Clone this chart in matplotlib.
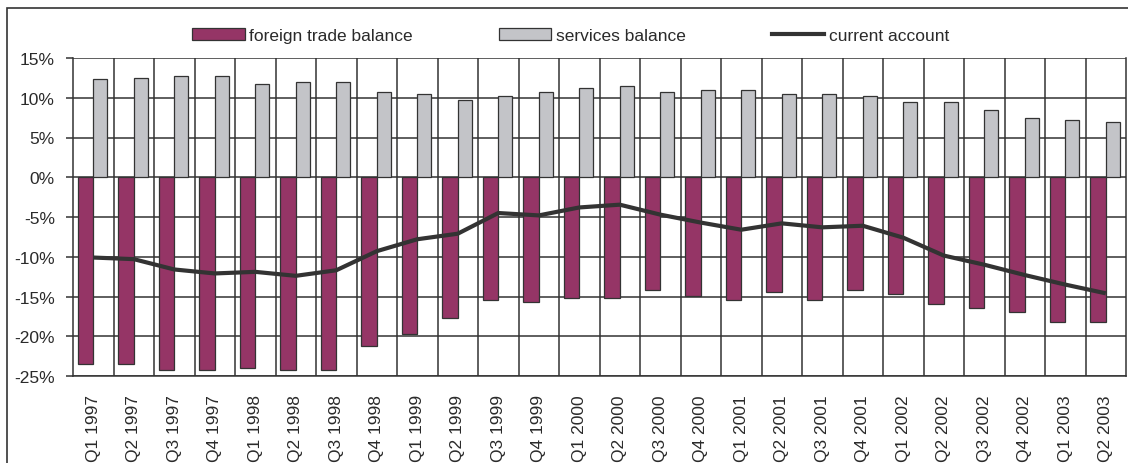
import numpy as np
import matplotlib.pyplot as plt
from matplotlib.patches import Patch, Rectangle
from matplotlib.lines import Line2D

plt.rcParams['font.family'] = ['Liberation Sans', 'DejaVu Sans']

quarters = ["Q1 1997", "Q2 1997", "Q3 1997", "Q4 1997",
            "Q1 1998", "Q2 1998", "Q3 1998", "Q4 1998",
            "Q1 1999", "Q2 1999", "Q3 1999", "Q4 1999",
            "Q1 2000", "Q2 2000", "Q3 2000", "Q4 2000",
            "Q1 2001", "Q2 2001", "Q3 2001", "Q4 2001",
            "Q1 2002", "Q2 2002", "Q3 2002", "Q4 2002",
            "Q1 2003", "Q2 2003"]

# balances as % of GDP
foreign_trade = [-23.5, -23.5, -24.2, -24.2, -24.0, -24.2, -24.2, -21.2,
                 -19.7, -17.7, -15.45, -15.7, -15.15, -15.15, -14.15, -14.9,
                 -15.45, -14.4, -15.4, -14.15, -14.65, -15.9, -16.4, -16.9,
                 -18.2, -18.2]
services = [12.3, 12.5, 12.75, 12.75, 11.75, 12.0, 12.0, 10.75,
            10.5, 9.75, 10.25, 10.75, 11.25, 11.5, 10.75, 11.0,
            11.0, 10.5, 10.5, 10.25, 9.5, 9.5, 8.5, 7.5,
            7.25, 7.0]
current_account = [-10.1, -10.3, -11.6, -12.1, -11.9, -12.4, -11.7, -9.3,
                   -7.8, -7.1, -4.5, -4.8, -3.8, -3.45, -4.7, -5.7,
                   -6.6, -5.8, -6.3, -6.1, -7.6, -9.85, -11.0, -12.3,
                   -13.5, -14.6]

purple = '#953566'
grey = '#c3c4c8'
dark = '#333333'
text_col = '#2a2a2a'

fig = plt.figure(figsize=(11.28, 4.64), dpi=100)
ax = fig.add_axes([73 / 1128, 1 - 377 / 464, 1053 / 1128, 318 / 464])

x = np.arange(len(quarters))
ax.bar(x - 0.38, foreign_trade, width=0.38, align='edge', color=purple,
       edgecolor=dark, linewidth=0.9, zorder=3)
ax.bar(x, services, width=0.35, align='edge', color=grey,
       edgecolor=dark, linewidth=0.9, zorder=3)
ax.plot(x, current_account, color=dark, linewidth=3, zorder=4,
        solid_capstyle='butt')

ax.set_xlim(-0.5, len(quarters) - 0.5)
ax.set_ylim(-25, 15)
ax.set_yticks(np.arange(-25, 16, 5))
ax.set_yticklabels([f"{v}%" for v in range(-25, 16, 5)])
ax.set_xticks(x)
ax.set_xticklabels(quarters, rotation=90)
ax.set_xticks(x[:-1] + 0.5, minor=True)

ax.grid(True, axis='y', which='major', color=dark, linewidth=1.1, zorder=0)
ax.grid(True, axis='x', which='minor', color=dark, linewidth=1.1, zorder=0)
ax.grid(False, axis='x', which='major')
ax.set_axisbelow(True)

ax.tick_params(axis='x', which='both', length=0, pad=13, labelsize=12.5,
               colors=text_col)
ax.tick_params(axis='y', length=5, width=1.1, color=dark, pad=8,
               labelsize=12.5, labelcolor=text_col)
for side in ['left', 'right', 'bottom']:
    ax.spines[side].set_color(dark)
    ax.spines[side].set_linewidth(1.1)
ax.spines['top'].set_visible(False)

handles = [Patch(facecolor=purple, edgecolor=dark, linewidth=0.9),
           Patch(facecolor=grey, edgecolor=dark, linewidth=0.9),
           Line2D([], [], color=dark, linewidth=3)]
labels = ["foreign trade balance", "services balance", "current account"]
fig.legend(handles, labels, loc='center', bbox_to_anchor=(0.506, 0.922),
           ncol=3, frameon=False, fontsize=12.5, handlelength=3.0,
           handleheight=0.7, handletextpad=0.25, columnspacing=5.0,
           labelcolor=text_col)

# outer frame around the chart
fig.patches.append(Rectangle((7 / 1128, -0.1), 1.2, 1 - 9 / 464 + 0.1,
                             transform=fig.transFigure, fill=False,
                             edgecolor=dark, linewidth=1.2))

fig.savefig("out.png", dpi=100)
